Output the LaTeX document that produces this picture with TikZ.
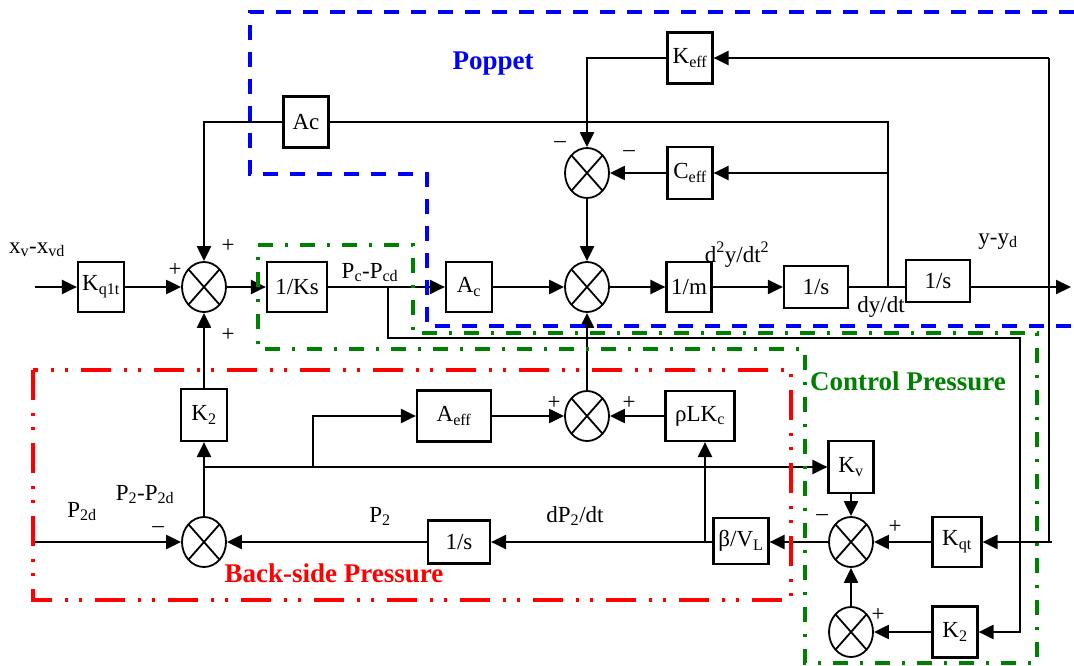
\documentclass[tikz,border=0pt]{standalone}
\usepackage{fontspec}
\setmainfont{Liberation Serif}
\usetikzlibrary{arrows.meta,shapes.geometric,calc}
\definecolor{pblue}{RGB}{0,0,255}
\definecolor{cgreen}{RGB}{0,128,0}
\definecolor{bred}{RGB}{255,0,0}
\begin{document}
\begin{tikzpicture}[x=1pt,y=-1pt,
  font=\fontsize{23}{27}\selectfont,
  blk/.style 2 args={draw, line width=2.2pt, minimum width=#1pt, minimum height=#2pt, inner sep=0pt},
  sumj/.style={draw, ellipse, line width=1.8pt, minimum width=44pt, minimum height=50pt, inner sep=0pt,
    path picture={\draw[line width=1.8pt] (path picture bounding box.north west) -- (path picture bounding box.south east)
      (path picture bounding box.south west) -- (path picture bounding box.north east);}},
  conn/.style={line width=2.2pt},
  arr/.style={conn, -{Triangle[length=15pt,width=14pt]}},
  sgn/.style={inner sep=0pt},
  lbl/.style={inner sep=0pt, anchor=base},
  region/.style={inner sep=0pt, anchor=base, font=\fontsize{27}{30}\selectfont\bfseries},
  blueline/.style={pblue, line width=4pt, dash pattern=on 15pt off 12pt},
  greenline/.style={cgreen, line width=3.5pt, dash pattern=on 15pt off 12pt on 3pt off 12pt},
  redline/.style={bred, line width=3.5pt, dash pattern=on 30pt off 13pt on 3pt off 11pt on 3pt off 13pt}
]
\useasboundingbox (0,0) rectangle (1074,666);

% ---- blocks ----
\node[blk={46}{50}] (kq1t) at (101,287) {K\textsubscript{q1t}};
\node[sumj] (s1) at (204,287) {};
\node[blk={60}{50}] (ks) at (297,287) {1/Ks};
\node[blk={46}{50}] (ac) at (469,287) {A\textsubscript{c}};
\node[sumj] (s2) at (587,287) {};
\node[blk={45}{50}] (m) at (689,287) {1/m};
\node[blk={64}{42}] (i1) at (816,287) {1/s};
\node[blk={64}{42}] (i2) at (938,281) {1/s};
\node[blk={45}{51}] (actop) at (306,122) {Ac};
\node[blk={45}{51}] (keff) at (690,58) {K\textsubscript{eff}};
\node[sumj] (s3) at (587,173) {};
\node[blk={45}{52}] (ceff) at (690,173) {C\textsubscript{eff}};
\node[sumj] (s4) at (587,416) {};
\node[blk={74}{51}] (aeff) at (454,416) {A\textsubscript{eff}};
\node[blk={69}{50}] (rlk) at (700,416) {ρLK\textsubscript{c}};
\node[blk={46}{52}] (k2a) at (204,415) {K\textsubscript{2}};
\node[sumj] (s5) at (204,542) {};
\node[blk={62}{43}] (i3) at (459,542) {1/s};
\node[blk={55}{46}] (bv) at (741,541) {β/V\textsubscript{L}};
\node[blk={45}{52}] (kv) at (851,467) {K\textsubscript{v}};
\node[sumj] (s6) at (851,542) {};
\node[blk={49}{50}] (kqt) at (957,542) {K\textsubscript{qt}};
\node[sumj] (s7) at (851,632) {};
\node[blk={45}{51}] (k2b) at (955,632) {K\textsubscript{2}};

% ---- coordinates ----
\coordinate (in1) at (35,287);
\coordinate (out) at (1071,287);
\coordinate (dy) at (888,287);
\coordinate (fbT) at (1049,58);
\coordinate (fbB) at (1052,542);
\coordinate (j1) at (204,467);
\coordinate (j2) at (313,467);
\coordinate (p2d) at (35,542);
\coordinate (j3) at (705,542);
\coordinate (j4) at (388,287);
\coordinate (c1) at (1020,338);

% ---- connectors ----
\draw[arr] (in1) -- (kq1t.west);
\draw[arr] (kq1t.east) -- (s1.west);
\draw[arr] (s1.east) -- (ks.west);
\draw[arr] (ks.east) -- (ac.west);
\draw[arr] (ac.east) -- (s2.west);
\draw[arr] (s2.east) -- (m.west);
\draw[arr] (m.east) -- (i1.west);
\draw[conn] (i1.east) -- (i1.east -| i2.west);
\draw[arr] (i2.east |- out) -- (out);
\draw[conn] (dy) -- (dy |- actop) -- (actop.east);
\draw[arr] (dy |- ceff) -- (ceff.east);
\draw[arr] (actop.west) -- (actop.west -| s1.north) -- (s1.north);
\draw[arr] (fbT) -- (keff.east);
\draw[conn] (fbT) -- (fbT |- fbB) -- (fbB);
\draw[arr] (fbB) -- (kqt.east);
\draw[arr] (keff.west) -- (keff.west -| s3.north) -- (s3.north);
\draw[arr] (ceff.west) -- (s3.east);
\draw[arr] (s3.south) -- (s2.north);
\draw[arr] (s4.north) -- (s2.south);
\draw[arr] (aeff.east) -- (s4.west);
\draw[arr] (rlk.west) -- (s4.east);
\draw[arr] (k2a.north) -- (s1.south);
\draw[arr] (s5.north) -- (k2a.south);
\draw[arr] (j1) -- (kv.west);
\draw[arr] (j2) -- (j2 |- aeff) -- (aeff.west);
\draw[arr] (p2d) -- (s5.west);
\draw[arr] (i3.west) -- (s5.east);
\draw[arr] (bv.west |- j3) -- (i3.east);
\draw[arr] (j3) -- (j3 |- rlk.south);
\draw[arr] (s6.west) -- (s6.west -| bv.east);
\draw[arr] (kv.south) -- (s6.north);
\draw[arr] (kqt.west) -- (s6.east);
\draw[arr] (s7.north) -- (s6.south);
\draw[arr] (k2b.west) -- (s7.east);
\draw[arr] (j4) -- (j4 |- c1) -- (c1) -- (c1 |- k2b) -- (k2b.east);

% ---- signal labels ----
\node[lbl] (lx) at (37,253) {x\textsubscript{v}-x\textsubscript{vd}};
\node[lbl] (lpc) at (370,278) {P\textsubscript{c}-P\textsubscript{cd}};
\node[lbl] (ld2) at (737,262) {d\textsuperscript{2}y/dt\textsuperscript{2}};
\node[lbl] (ldy) at (881,312) {dy/dt};
\node[lbl] (lyy) at (998,244) {y-y\textsubscript{d}};
\node[lbl] (lp2d) at (82,517) {P\textsubscript{2d}};
\node[lbl] (lp22) at (145,500) {P\textsubscript{2}-P\textsubscript{2d}};
\node[lbl] (lp2) at (380,522) {P\textsubscript{2}};
\node[lbl] (ldp) at (575,522) {dP\textsubscript{2}/dt};

% ---- signs ----
\node[sgn] (g1) at (175,270) {+};
\node[sgn] (g2) at (228,246) {+};
\node[sgn] (g3) at (228,335) {+};
\node[sgn] (g4) at (560,145) {–};
\node[sgn] (g5) at (629,154) {–};
\node[sgn] (g6) at (554,403) {+};
\node[sgn] (g7) at (629,403) {+};
\node[sgn] (g8) at (158,530) {–};
\node[sgn] (g9) at (822,518) {–};
\node[sgn] (g10) at (895,527) {+};
\node[sgn] (g11) at (878,615) {+};

% ---- regions ----
\draw[blueline] (1074,12) -- (250,12) -- (250,174) -- (427,174) -- (427,326) -- (1074,326);
\draw[greenline] (258,245) -- (413,245) -- (413,333) -- (1037,333) -- (1037,663) -- (805,663) -- (805,349) -- (258,349) -- cycle;
\draw[redline] (33,370) rectangle (791,600);
\node[region, text=pblue] (rp) at (493,70) {Poppet};
\node[region, text=cgreen] (rc) at (908,390) {Control Pressure};
\node[region, text=bred] (rb) at (334,582) {Back-side Pressure};
\end{tikzpicture}
\end{document}
